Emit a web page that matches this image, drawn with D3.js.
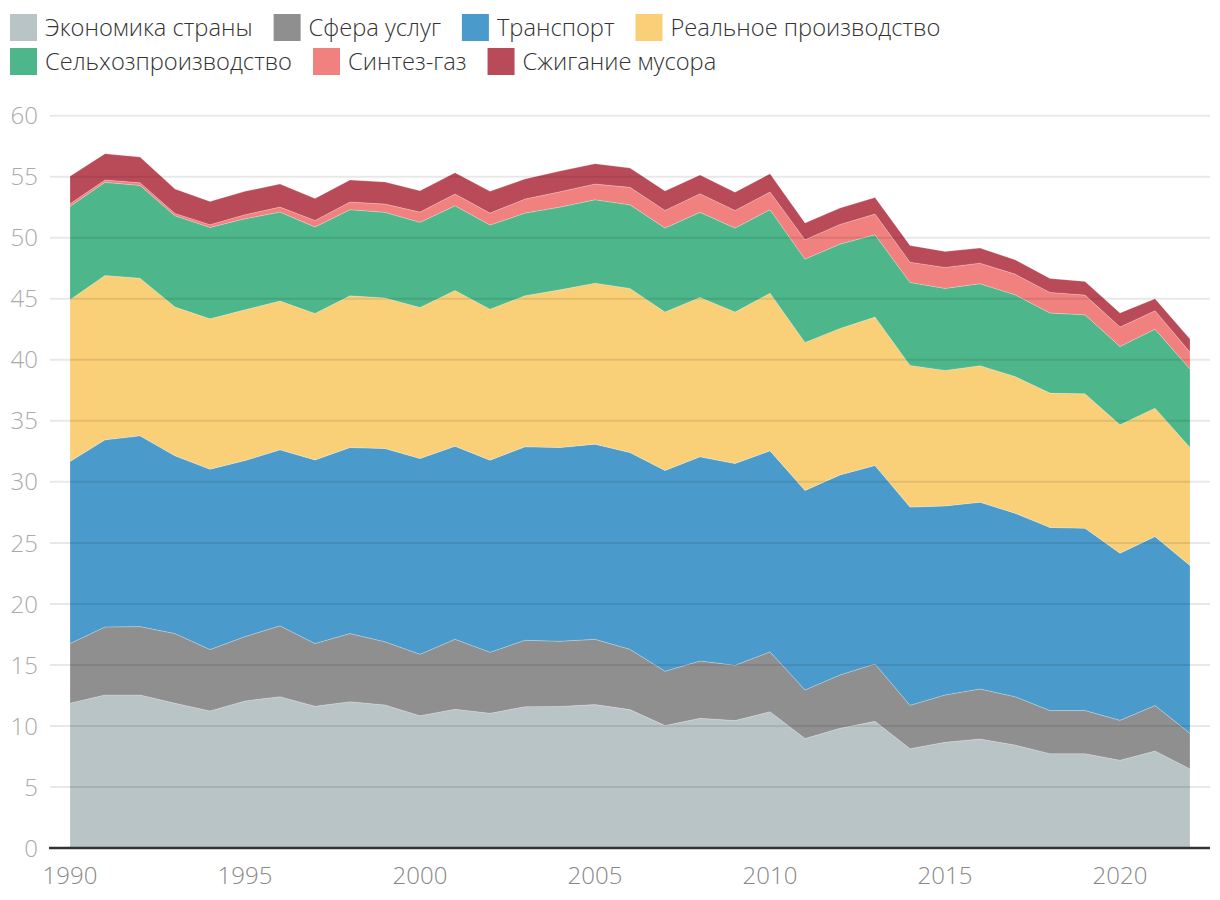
<!DOCTYPE html>
<html>
<head>
<meta charset="utf-8">
<script src="https://cdn.jsdelivr.net/npm/d3@7"></script>
<style>
  html, body { margin: 0; padding: 0; background: #fff; }
  svg { display: block; font-family: "Open Sans", "Noto Sans", sans-serif; }
</style>
</head>
<body>
<svg id="chart" width="1220" height="900"></svg>
<script>
const years = d3.range(1990, 2023);
const seriesNames = ["Экономика страны", "Сфера услуг", "Транспорт", "Реальное производство", "Сельхозпроизводство", "Синтез-газ", "Сжигание мусора"];
const seriesColors = ["#b8c4c6", "#8f8f8f", "#4a9bcb", "#f9cf78", "#4db68a", "#f0817f", "#b94b59"];
const yTicks = [0, 5, 10, 15, 20, 25, 30, 35, 40, 45, 50, 55, 60];
const xTicks = [1990, 1995, 2000, 2005, 2010, 2015, 2020];

const economy   = [11.86,12.54,12.54,11.86,11.23,12.05,12.40,11.61,11.99,11.72,10.84,11.37,11.04,11.58,11.60,11.75,11.34,10.03,10.63,10.44,11.17,8.97,9.81,10.38,8.14,8.66,8.93,8.44,7.73,7.73,7.19,7.95,6.48];
const services  = [4.89,5.57,5.60,5.71,5.03,5.27,5.80,5.14,5.58,5.17,5.03,5.73,5.00,5.44,5.34,5.35,4.94,4.45,4.70,4.53,4.90,3.98,4.37,4.70,3.55,3.88,4.10,3.96,3.53,3.53,3.27,3.72,2.92];
const transport = [14.92,15.33,15.63,14.56,14.78,14.43,14.42,15.05,15.24,15.84,16.04,15.82,15.74,15.85,15.87,15.99,16.12,16.45,16.72,16.53,16.47,16.35,16.39,16.26,16.24,15.49,15.30,15.03,15.00,14.94,13.69,13.85,13.74];
const industry  = [13.25,13.47,12.92,12.19,12.32,12.35,12.19,12.00,12.44,12.33,12.38,12.76,12.37,12.38,12.93,13.19,13.45,12.98,13.06,12.41,12.92,12.12,12.00,12.16,11.61,11.10,11.18,11.20,11.01,11.01,10.52,10.52,9.67];
const agri      = [7.65,7.63,7.60,7.48,7.49,7.46,7.29,7.08,7.05,7.02,6.97,6.94,6.89,6.77,6.77,6.83,6.85,6.88,6.97,6.88,6.84,6.83,6.91,6.75,6.80,6.72,6.72,6.70,6.56,6.48,6.42,6.47,6.43];
const syngas    = [0.22,0.19,0.22,0.19,0.22,0.33,0.41,0.54,0.63,0.68,0.84,0.96,0.98,1.15,1.26,1.29,1.43,1.45,1.52,1.45,1.45,1.59,1.61,1.69,1.66,1.72,1.69,1.69,1.69,1.61,1.59,1.51,1.39];
const waste     = [2.24,2.16,2.10,2.00,1.91,1.91,1.89,1.80,1.80,1.81,1.75,1.75,1.78,1.64,1.69,1.67,1.58,1.59,1.54,1.48,1.50,1.36,1.34,1.36,1.37,1.31,1.23,1.18,1.15,1.12,1.15,0.98,1.07];

const seriesValues = [economy, services, transport, industry, agri, syngas, waste];
const keys = seriesNames;
const table = years.map((yr, i) => {
  const row = { year: yr };
  keys.forEach((k, j) => row[k] = seriesValues[j][i]);
  return row;
});

const svg = d3.select("#chart");
const x = d3.scaleLinear().domain([1990, 2022]).range([70, 1190]);
const y = d3.scaleLinear().domain([0, 60]).range([848, 115.7]);

const layers = d3.stack().keys(keys)(table);
const area = d3.area()
  .x(d => x(d.data.year))
  .y0(d => y(d[0]))
  .y1(d => y(d[1]));

svg.append("g").selectAll("path")
  .data(layers)
  .join("path")
  .attr("d", area)
  .attr("fill", (d, i) => seriesColors[i])
  .attr("stroke", "#fff")
  .attr("stroke-opacity", 0.35)
  .attr("stroke-width", 0.6);

// gridlines on top
svg.append("g").selectAll("line")
  .data(yTicks.filter(t => t > 0))
  .join("line")
  .attr("x1", 50).attr("x2", 1210)
  .attr("y1", d => y(d)).attr("y2", d => y(d))
  .attr("stroke", "#000").attr("stroke-opacity", 0.09).attr("stroke-width", 2);

// y labels
svg.append("g").selectAll("text")
  .data(yTicks)
  .join("text")
  .attr("x", 38).attr("y", d => y(d))
  .attr("dy", "0.36em")
  .attr("text-anchor", "end")
  .attr("fill", "#aaa")
  .attr("font-size", 24)
  .attr("font-weight", 300)
  .text(d => d);

// x axis baseline
svg.append("line")
  .attr("x1", 49).attr("x2", 1210)
  .attr("y1", y(0)).attr("y2", y(0))
  .attr("stroke", "#333").attr("stroke-width", 2.5);

// x labels
svg.append("g").selectAll("text")
  .data(xTicks)
  .join("text")
  .attr("x", d => x(d)).attr("y", 884)
  .attr("text-anchor", "middle")
  .attr("fill", "#888")
  .attr("font-size", 24)
  .attr("font-weight", 300)
  .text(d => d);

// legend
const legend = svg.append("g");
let lx = 10, ly = 14;
const rowH = 34, sw = 27, gap = 8, itemGap = 21, maxX = 1210;
keys.forEach((k, i) => {
  const g = legend.append("g");
  const t = g.append("text")
    .attr("font-size", 23.7)
    .attr("font-weight", 300)
    .attr("fill", "#333")
    .attr("dy", "0.35em")
    .text(k);
  const tw = t.node().getComputedTextLength();
  if (lx + sw + gap + tw > maxX) { lx = 10; ly += rowH; }
  g.insert("rect", "text")
    .attr("x", lx).attr("y", ly).attr("width", sw).attr("height", sw)
    .attr("fill", seriesColors[i]);
  t.attr("x", lx + sw + gap).attr("y", ly + sw / 2);
  lx += sw + gap + tw + itemGap;
});
</script>
</body>
</html>
